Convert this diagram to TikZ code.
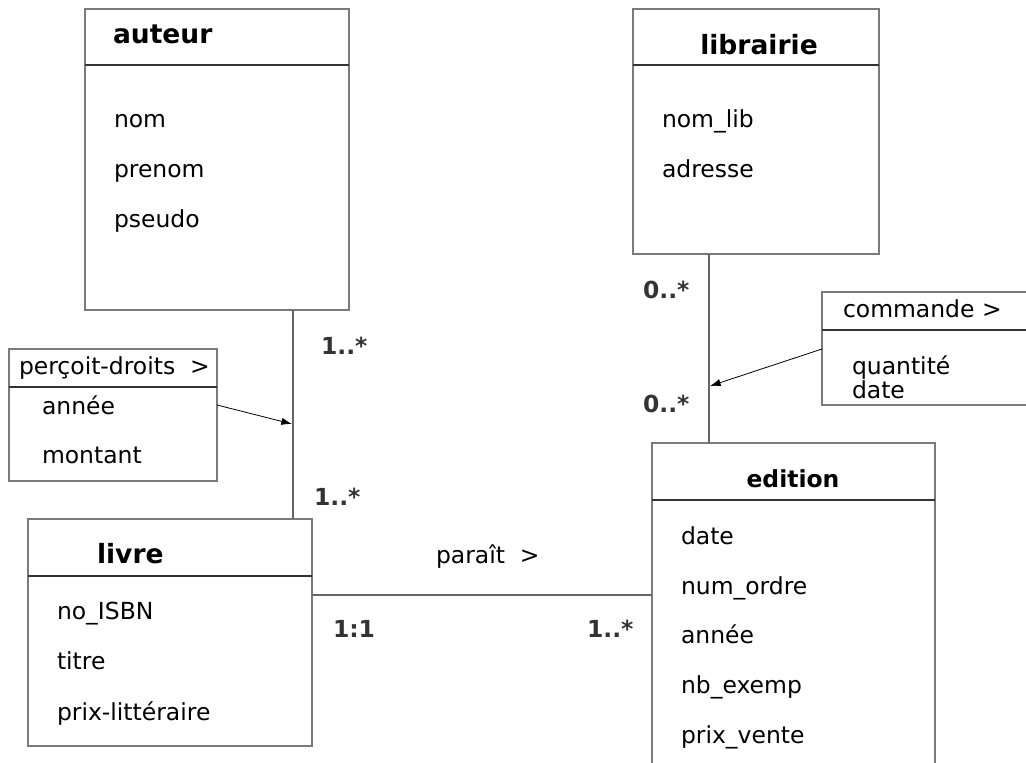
\documentclass[tikz,border=0pt]{standalone}
\usepackage{fontspec}
\setmainfont{DejaVu Sans}
\usetikzlibrary{arrows.meta}
\definecolor{boxgray}{HTML}{7A7A7A}
\definecolor{divgray}{HTML}{333333}
\definecolor{conngray}{HTML}{666666}
\definecolor{multgray}{HTML}{333333}
\tikzset{
  umlbox/.style={draw=boxgray, line width=0.9pt, rectangle, inner sep=0pt, outer sep=0pt, anchor=north west},
  divider/.style={draw=divgray, line width=0.8pt},
  conn/.style={draw=conngray, line width=0.9pt},
  arr/.style={draw=black, line width=0.6pt, -{Latex[length=8pt,width=5.5pt]}},
  txt/.style={inner sep=0pt, outer sep=0pt, anchor=base west, font=\fontsize{17.6}{20}\selectfont},
  ttl/.style={inner sep=0pt, outer sep=0pt, anchor=base west, font=\fontsize{19.9}{23}\selectfont\bfseries},
  ttlc/.style={inner sep=0pt, outer sep=0pt, anchor=base, font=\fontsize{19.9}{23}\selectfont\bfseries},
  mult/.style={inner sep=0pt, outer sep=0pt, anchor=base west, text=multgray, font=\fontsize{17.6}{20}\selectfont\bfseries},
}
\begin{document}
\begin{tikzpicture}[x=0.75pt, y=-0.75pt]
\useasboundingbox (0,0) rectangle (1026,763);

% ---- auteur ----
\node[umlbox, minimum width=198pt, minimum height=225.75pt] (auteur) at (85,9) {};
\draw[divider] (auteur.west |- 0,65) -- (auteur.east |- 0,65);
\node[ttl] (auteurT) at (113,44) {auteur};
\node[txt] (a1) at (114,128) {nom};
\node[txt] (a2) at (114,178) {prenom};
\node[txt] (a3) at (114,228) {pseudo};

% ---- librairie ----
\node[umlbox, minimum width=184.5pt, minimum height=183.75pt] (librairie) at (633,9) {};
\draw[divider] (librairie.west |- 0,65) -- (librairie.east |- 0,65);
\node[ttlc] (librairieT) at (759,55) {librairie};
\node[txt] (l1) at (662,128) {nom\_lib};
\node[txt] (l2) at (662,178) {adresse};

% ---- percoit-droits ----
\node[umlbox, minimum width=156pt, minimum height=99pt] (percoit) at (9,349) {};
\draw[divider] (percoit.west |- 0,387) -- (percoit.east |- 0,387);
\node[txt] (pT) at (19,374) {perçoit-droits\ \ >};
\node[txt] (p1) at (42,415) {année};
\node[txt] (p2) at (42,464) {montant};

% ---- commande ----
\node[umlbox, minimum width=156pt, minimum height=84.75pt] (commande) at (822,292) {};
\draw[divider] (commande.west |- 0,330) -- (commande.east |- 0,330);
\node[txt] (cT) at (843,318) {commande >};
\node[txt] (c1) at (852,374) {quantité};
\node[txt] (c2) at (852,398) {date};

% ---- edition ----
\node[umlbox, minimum width=212.25pt, minimum height=245pt] (edition) at (652,443) {};
\draw[divider] (edition.west |- 0,500) -- (edition.east |- 0,500);
\node[inner sep=0pt, outer sep=0pt, anchor=base, font=\fontsize{17.6}{20}\selectfont\bfseries] (editionT) at (793,487) {edition};
\node[txt] (e1) at (681,544) {date};
\node[txt] (e2) at (681,594) {num\_ordre};
\node[txt] (e3) at (681,643) {année};
\node[txt] (e4) at (681,693) {nb\_exemp};
\node[txt] (e5) at (681,743) {prix\_vente};

% ---- livre ----
\node[umlbox, minimum width=213pt, minimum height=170.25pt] (livre) at (28,519) {};
\draw[divider] (livre.west |- 0,576) -- (livre.east |- 0,576);
\node[ttl] (livreT) at (97,563) {livre};
\node[txt] (v1) at (57,619) {no\_ISBN};
\node[txt] (v2) at (57,669) {titre};
\node[txt] (v3) at (57,720) {prix-littéraire};

% ---- connectors ----
\draw[conn] (293,0 |- auteur.south) -- (293,0 |- livre.north);
\draw[conn] (709,0 |- librairie.south) -- (709,0 |- edition.north);
\draw[conn] (livre.east |- 0,595) -- (edition.west |- 0,595);

\coordinate (pAt) at (292,424);
\coordinate (cAt) at (710,386);
\draw[arr] (percoit.east |- 0,405) -- (pAt);
\draw[arr] (commande.west |- 0,349) -- (cAt);

% ---- multiplicities ----
\node[mult] (m1) at (321,354) {1..*};
\node[mult] (m2) at (314,505) {1..*};
\node[mult] (m3) at (643,299) {0..*};
\node[mult] (m4) at (643,412) {0..*};
\node[mult] (m5) at (333,637) {1:1};
\node[mult] (m6) at (587,637) {1..*};
\node[txt] (paraT) at (436,563) {paraît\ \ >};
\end{tikzpicture}
\end{document}
